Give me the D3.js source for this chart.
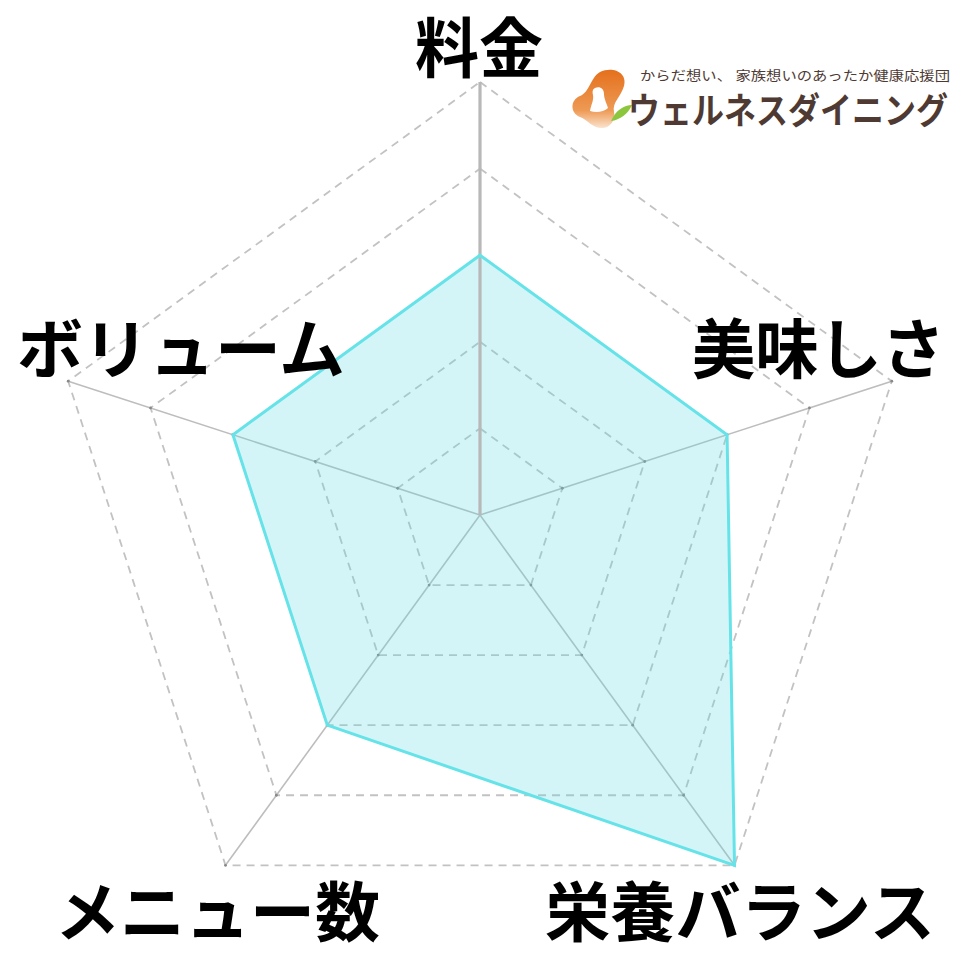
<!DOCTYPE html>
<html>
<head>
<meta charset="utf-8">
<script src="https://cdn.jsdelivr.net/npm/d3@7"></script>
<style>
html,body{margin:0;padding:0;background:#fff;}
svg{display:block;}
</style>
</head>
<body>
<svg id="chart" width="960" height="960"></svg>
<script>
const categories = ["料金", "美味しさ", "栄養バランス", "メニュー数", "ボリューム"];
const values = [3, 3, 5, 3, 3];
const levels = [1, 2, 3, 4, 5];
const maxValue = 5;

const svg = d3.select("#chart");
const cx = 480, cy = 515, R = 433;
const n = categories.length;
const r = d3.scaleLinear().domain([0, maxValue]).range([0, R]);
const angle = d3.scaleLinear().domain([0, n]).range([0, 2 * Math.PI]);
const pt = (i, v) => [cx + r(v) * Math.sin(angle(i)), cy - r(v) * Math.cos(angle(i))];

const g = svg.append("g");

categories.forEach((c, i) => {
  if (i === 0) return;
  const [x, y] = pt(i, maxValue);
  g.append("line").attr("x1", cx).attr("y1", cy).attr("x2", x).attr("y2", y)
    .attr("stroke", "#bdbdbd").attr("stroke-width", 1.6);
});

const ringLine = d3.line();
levels.forEach(l => {
  const pts = categories.map((c, i) => pt(i, l));
  g.append("path").attr("d", ringLine(pts) + "Z")
    .attr("fill", "none").attr("stroke", "#c2c2c2").attr("stroke-width", 1.8)
    .attr("stroke-dasharray", "8,6");
  pts.forEach((p, i) => {
    if (i === 0) return;
    g.append("circle").attr("cx", p[0]).attr("cy", p[1]).attr("r", 1.4).attr("fill", "#888");
  });
});

const dataPts = values.map((v, i) => pt(i, v));
g.append("path").attr("d", ringLine(dataPts) + "Z")
  .attr("fill", "rgb(100,220,230)").attr("fill-opacity", 0.28).attr("stroke", "none");

{
  const [x, y] = pt(0, maxValue);
  g.append("line").attr("x1", cx).attr("y1", cy).attr("x2", x).attr("y2", y)
    .attr("stroke", "#b8b8b8").attr("stroke-width", 3.2);
}

g.append("path").attr("d", ringLine(dataPts) + "Z")
  .attr("fill", "none").attr("stroke", "#66e3e8").attr("stroke-width", 3)
  .attr("stroke-linejoin", "miter");

const labelPos = [
  {x: 415, y: 44, w: 128},
  {x: 692, y: 345, w: 253},
  {x: 545, y: 908, w: 390},
  {x: 55, y: 908, w: 325},
  {x: 17, y: 345, w: 328}
];
categories.forEach((c, i) => {
  const p = labelPos[i];
  svg.append("text").attr("x", p.x).attr("y", p.y)
    .attr("text-anchor", "start").attr("dominant-baseline", "central")
    .attr("font-family", "'Noto Sans CJK JP', 'Noto Sans', sans-serif")
    .attr("font-weight", 700).attr("font-size", 65).attr("fill", "#000")
    .attr("textLength", p.w).attr("lengthAdjust", "spacingAndGlyphs")
    .text(c);
});

const logo = svg.append("g");
const grad = svg.append("defs").append("linearGradient").attr("id", "og")
  .attr("x1", "0").attr("y1", "0").attr("x2", "0").attr("y2", "1");
grad.append("stop").attr("offset", "0").attr("stop-color", "#e4701c");
grad.append("stop").attr("offset", "0.7").attr("stop-color", "#ee9a55");
grad.append("stop").attr("offset", "1").attr("stop-color", "#fbe3cf");
logo.append("path")
  .attr("d", "M600,72 C612,66 628,72 624,86 C621,97 612,102 614,112 C616,120 610,128 602,128 C592,128 588,120 580,117 C570,113 570,100 580,96 C590,92 590,78 600,72 Z")
  .attr("fill", "url(#og)");
logo.append("path")
  .attr("d", "M595,88 C600,86 604,89 604,94 C604,99 607,104 608,108 C604,112 596,113 590,111 C591,105 594,100 593,95 C592,91 593,89 595,88 Z")
  .attr("fill", "#fff");
logo.append("path")
  .attr("d", "M611,121 C616,110 624,105 632,105 C628,114 620,120 611,121 Z")
  .attr("fill", "#8cc63f");
logo.append("text").attr("x", 640).attr("y", 74)
  .attr("dominant-baseline", "central")
  .attr("font-family", "'Noto Sans CJK JP', sans-serif").attr("font-size", 13)
  .attr("fill", "#4e3a32").attr("textLength", 310).attr("lengthAdjust", "spacingAndGlyphs")
  .text("からだ想い、 家族想いのあったか健康応援団");
logo.append("text").attr("x", 628).attr("y", 108)
  .attr("dominant-baseline", "central")
  .attr("font-family", "'Noto Sans CJK JP', sans-serif").attr("font-weight", 700).attr("font-size", 36)
  .attr("fill", "#4e3a32").attr("textLength", 320).attr("lengthAdjust", "spacingAndGlyphs")
  .text("ウェルネスダイニング");
</script>
</body>
</html>
